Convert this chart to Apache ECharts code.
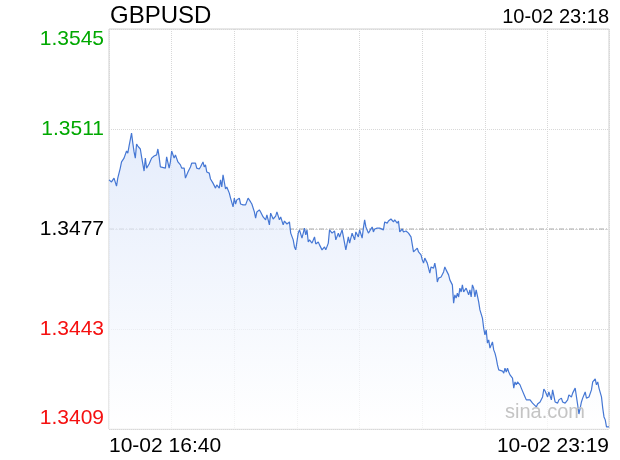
<!DOCTYPE html>
<html>
<head>
<meta charset="utf-8">
<script src="https://cdn.jsdelivr.net/npm/echarts@6/dist/echarts.min.js"></script>
<style>
html, body { margin: 0; padding: 0; background: #fff; }
#chart { width: 620px; height: 460px; }
</style>
</head>
<body>
<div id="chart"></div>
<script>
// GBPUSD intraday, 10-02 16:40 -> 23:19
var symbol = 'GBPUSD';
var stamp = '10-02 23:18';
var prevClose = 1.3477;
var yTicks = [1.3409, 1.3443, 1.3477, 1.3511, 1.3545];
var xTickLabels = ['10-02 16:40', '10-02 23:19'];
var sessionLen = 399; // minutes from 16:40 to 23:19

// minutes after 16:40
var mins = [
  0,2,4,6,7,9,10,12,14,15,
  16,18,19,20,21,22,23,25,26,28,
  29,30,32,34,36,38,39,40,41,42,
  45,46,48,49,50,52,53,55,57,58,
  60,61,63,65,66,69,70,72,73,75,
  76,77,78,80,81,83,85,86,88,89,
  90,91,93,94,96,97,99,100,101,102,
  104,105,107,109,111,113,114,116,117,118,
  120,121,123,125,126,128,129,131,133,134,
  136,137,139,140,142,144,145,147,148,149,
  151,152,154,156,157,158,159,160,162,164,
  165,167,168,170,172,173,175,176,178,180,
  181,183,184,186,188,189,191,192,194,196,
  197,199,200,202,203,204,205,207,208,210,
  211,212,214,216,217,219,220,222,223,225,
  227,228,230,231,232,234,235,237,239,240,
  241,243,244,246,247,249,250,251,252,254,
  255,256,257,259,260,261,262,263,265,267,
  268,269,271,272,273,274,275,276,277,278,
  279,280,281,282,283,285,286,287,288,289,
  290,291,292,293,295,296,298,299,300,301,
  302,303,304,306,307,308,309,310,311,312,
  314,315,316,317,318,319,320,322,323,324,
  325,326,328,329,330,332,333,334,336,338,
  339,341,342,344,346,347,348,350,351,353,
  354,356,358,359,361,362,364,366,367,369,
  370,372,374,375,376,377,378,380,381,383,
  385,386,388,389,390,391,393,394,395,396,
  397,398,399
];

var prices = [
  1.34937,1.34930,1.34943,1.34916,1.34943,1.34977,1.34998,1.35011,1.35035,1.35028,
  1.35052,1.35096,1.35062,1.35032,1.35011,1.35059,1.35052,1.35042,1.35015,1.34967,
  1.35011,1.34977,1.34991,1.35011,1.35018,1.35022,1.35042,1.35015,1.34981,1.34977,
  1.34977,1.35015,1.34977,1.34998,1.35035,1.35011,1.35022,1.34998,1.34988,1.34977,
  1.34977,1.34943,1.34964,1.34981,1.34994,1.34994,1.34977,1.34974,1.34981,1.34998,
  1.34981,1.34988,1.34964,1.34960,1.34940,1.34926,1.34909,1.34920,1.34909,1.34937,
  1.34913,1.34954,1.34906,1.34913,1.34892,1.34875,1.34845,1.34875,1.34855,1.34869,
  1.34875,1.34855,1.34852,1.34852,1.34875,1.34862,1.34855,1.34828,1.34807,1.34828,
  1.34835,1.34828,1.34811,1.34801,1.34818,1.34784,1.34824,1.34804,1.34814,1.34828,
  1.34801,1.34811,1.34784,1.34797,1.34787,1.34794,1.34756,1.34733,1.34709,1.34699,
  1.34756,1.34767,1.34739,1.34773,1.34750,1.34767,1.34726,1.34733,1.34722,1.34743,
  1.34719,1.34726,1.34716,1.34699,1.34709,1.34699,1.34722,1.34767,1.34756,1.34763,
  1.34733,1.34756,1.34743,1.34767,1.34722,1.34699,1.34743,1.34722,1.34756,1.34733,
  1.34760,1.34743,1.34767,1.34739,1.34773,1.34801,1.34777,1.34756,1.34760,1.34777,
  1.34760,1.34770,1.34773,1.34773,1.34770,1.34767,1.34794,1.34790,1.34797,1.34804,
  1.34794,1.34801,1.34790,1.34797,1.34760,1.34770,1.34760,1.34763,1.34756,1.34750,
  1.34743,1.34692,1.34688,1.34705,1.34692,1.34682,1.34665,1.34654,1.34671,1.34654,
  1.34637,1.34620,1.34641,1.34637,1.34654,1.34631,1.34590,1.34603,1.34607,1.34624,
  1.34641,1.34631,1.34614,1.34597,1.34603,1.34580,1.34518,1.34546,1.34535,1.34552,
  1.34539,1.34569,1.34556,1.34580,1.34556,1.34569,1.34569,1.34546,1.34563,1.34539,
  1.34580,1.34569,1.34539,1.34563,1.34522,1.34495,1.34467,1.34433,1.34410,1.34427,
  1.34382,1.34393,1.34365,1.34386,1.34359,1.34348,1.34331,1.34308,1.34291,1.34287,
  1.34287,1.34280,1.34297,1.34284,1.34297,1.34284,1.34274,1.34263,1.34229,1.34250,
  1.34240,1.34250,1.34240,1.34229,1.34223,1.34199,1.34189,1.34185,1.34189,1.34178,
  1.34172,1.34165,1.34175,1.34182,1.34199,1.34226,1.34219,1.34199,1.34216,1.34189,
  1.34223,1.34182,1.34178,1.34189,1.34195,1.34182,1.34178,1.34189,1.34206,1.34199,
  1.34212,1.34229,1.34172,1.34141,1.34161,1.34182,1.34195,1.34216,1.34195,1.34199,
  1.34223,1.34250,1.34260,1.34240,1.34250,1.34229,1.34199,1.34161,1.34131,1.34121,
  1.34097,1.34093,1.34097
];

var font = '"Liberation Sans", Arial, Helvetica, sans-serif';
var chart = echarts.init(document.getElementById('chart'));

var seriesData = [];
for (var i = 0; i < mins.length; i++) {
  seriesData.push([mins[i], prices[i]]);
}

chart.setOption({
  animation: false,
  backgroundColor: '#fff',
  textStyle: { fontFamily: font },
  grid: {
    left: 109, right: 11, top: 29, bottom: 31,
    show: true, borderColor: '#d0d0d0', borderWidth: 1
  },
  title: {
    text: symbol,
    left: 110, top: 4, padding: 0,
    textStyle: { fontSize: 24, fontWeight: 'normal', color: '#000', fontFamily: font }
  },
  graphic: [
    {
      type: 'text', right: 11, top: 7, z: 10,
      style: { text: stamp, font: '20px ' + font, fill: '#000' }
    },
    {
      type: 'text', left: 505, top: 402, z: 10,
      style: { text: 'sina.com', font: '20px ' + font, fill: '#c4c4c4' }
    }
  ],
  xAxis: {
    type: 'value',
    min: 0, max: sessionLen, interval: 50,
    axisLine: { show: false },
    axisTick: { show: false },
    splitLine: { show: true, lineStyle: { type: 'dotted', color: '#d8d8d8' } },
    axisLabel: {
      fontSize: 21, color: '#000', margin: 7,
      showMinLabel: true, showMaxLabel: true,
      alignMinLabel: 'left', alignMaxLabel: 'right',
      formatter: function (v) {
        if (v === 0) return xTickLabels[0];
        if (v === sessionLen) return xTickLabels[1];
        return '';
      }
    }
  },
  yAxis: {
    type: 'value',
    min: yTicks[0], max: yTicks[yTicks.length - 1], interval: 0.0034,
    axisLine: { show: false },
    axisTick: { show: false },
    splitLine: { show: true, lineStyle: { type: 'dotted', color: '#d8d8d8' } },
    axisLabel: {
      fontSize: 21, margin: 5,
      verticalAlignMinLabel: 'bottom', verticalAlignMaxLabel: 'top',
      formatter: function (v) { return v.toFixed(4); },
      color: function (v) {
        var d = Number(v) - prevClose;
        if (d > 0.00001) return '#00a800';
        if (d < -0.00001) return '#f51010';
        return '#000';
      }
    }
  },
  series: [
    {
      type: 'line',
      data: [[0, prevClose], [sessionLen, prevClose]],
      symbol: 'none',
      silent: true,
      z: 1,
      lineStyle: { type: [5, 2, 1, 2], color: '#a8a8a8', width: 1 }
    },
    {
      type: 'line',
      data: seriesData,
      symbol: 'none',
      z: 2,
      lineStyle: { color: '#4577d4', width: 1.2 },
      areaStyle: {
        color: new echarts.graphic.LinearGradient(0, 0, 0, 1, [
          { offset: 0, color: '#dae5fa' },
          { offset: 1, color: '#ffffff' }
        ])
      }
    }
  ]
});
</script>
</body>
</html>
